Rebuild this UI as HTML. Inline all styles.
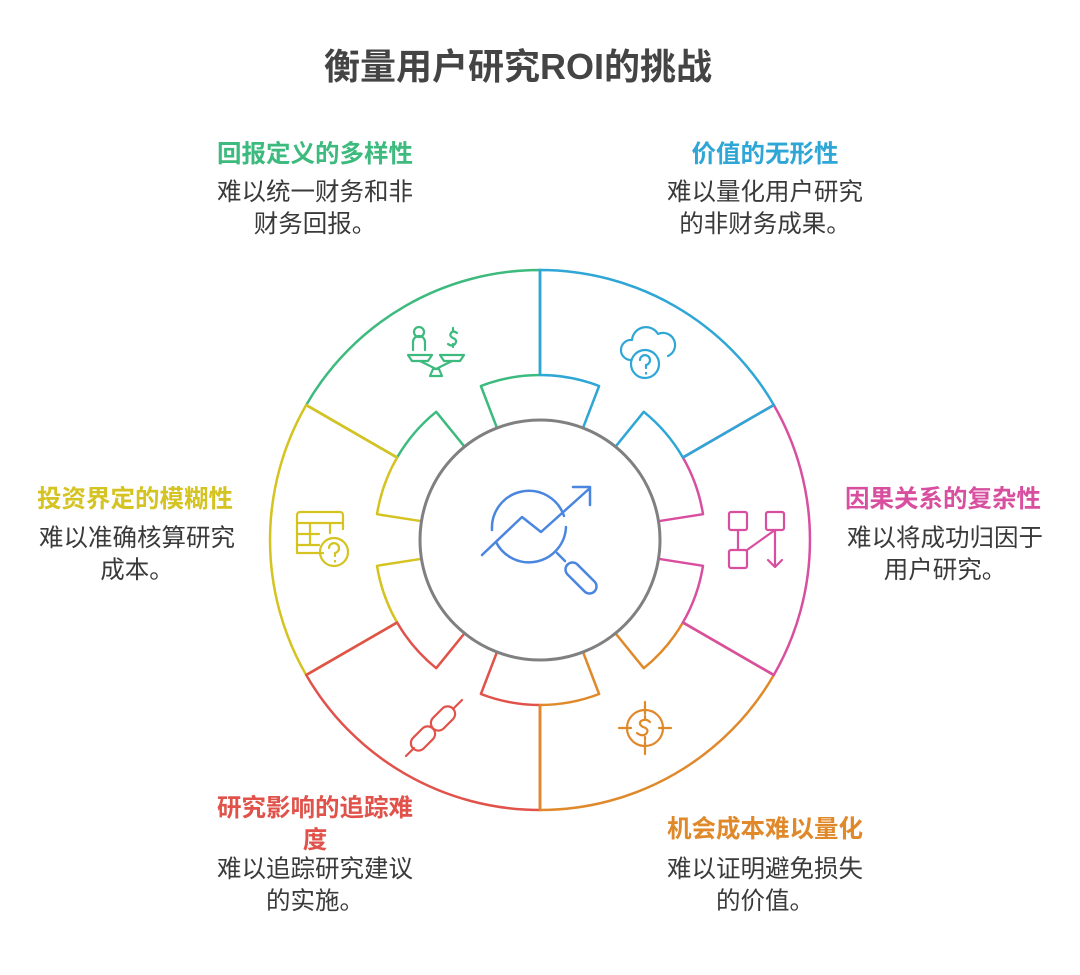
<!DOCTYPE html>
<html><head><meta charset="utf-8"><style>
body{margin:0;width:1080px;height:975px;background:#fff;position:relative;overflow:hidden;font-family:"Liberation Sans","Noto Sans CJK SC",sans-serif}
.t{position:absolute;text-align:center;white-space:nowrap}
.h{font-weight:bold;font-size:24.5px}
.d{font-size:24.5px;color:#3a3a3a;line-height:32px}
</style></head><body>
<div class="t" style="left:-22px;width:1080px;top:38px;font-size:36px;font-weight:bold;color:#444">衡量用户研究ROI的挑战</div>

<div class="t h" style="left:195px;width:240px;top:135px;color:#3dba7e">回报定义的多样性</div>
<div class="t d" style="left:195px;width:240px;top:177px">难以统一财务和非<br>财务回报。</div>

<div class="t h" style="left:645px;width:240px;top:135px;color:#2ea6d6">价值的无形性</div>
<div class="t d" style="left:645px;width:240px;top:177px">难以量化用户研究<br>的非财务成果。</div>

<div class="t h" style="left:37px;width:220px;top:480px;color:#d4c321;text-align:left">投资界定的模糊性</div>
<div class="t d" style="left:17px;width:240px;top:523px">难以准确核算研究<br>成本。</div>

<div class="t h" style="left:845px;width:220px;top:480px;color:#d94fa0;text-align:left">因果关系的复杂性</div>
<div class="t d" style="left:825px;width:240px;top:523px">难以将成功归因于<br>用户研究。</div>

<div class="t h" style="left:195px;width:240px;top:793px;color:#e0524a;line-height:32px">研究影响的追踪难<br>度</div>
<div class="t d" style="left:195px;width:240px;top:854px">难以追踪研究建议<br>的实施。</div>

<div class="t h" style="left:645px;width:240px;top:810px;color:#e0892a">机会成本难以量化</div>
<div class="t d" style="left:645px;width:240px;top:854px">难以证明避免损失<br>的价值。</div>

<svg width="1080" height="975" style="position:absolute;left:0;top:0" fill="none" stroke-width="2.5" stroke-linecap="round" stroke-linejoin="round">
<path stroke="#3dba7e" d="M497,428 L480.9,386 A165,165 0 0 1 540,375 L540,270 A270,270 0 0 0 306.2,405 L397.1,457.5 A165,165 0 0 1 436.2,411.8 L464.5,446.7"/>
<path stroke="#2ea6d6" d="M583,428 L599.1,386 A165,165 0 0 0 540,375 L540,270 A270,270 0 0 1 773.8,405 L682.9,457.5 A165,165 0 0 0 643.8,411.8 L615.5,446.7"/>
<path stroke="#d94fa0" d="M658.5,521.2 L703,514.2 A165,165 0 0 0 682.9,457.5 L773.8,405 A270,270 0 0 1 773.8,675 L682.9,622.5 A165,165 0 0 0 703,565.8 L658.5,558.8"/>
<path stroke="#e0892a" d="M615.5,633.3 L643.8,668.2 A165,165 0 0 0 682.9,622.5 L773.8,675 A270,270 0 0 1 540,810 L540,705 A165,165 0 0 0 599.1,694 L583,652"/>
<path stroke="#e0524a" d="M497,652 L480.9,694 A165,165 0 0 0 540,705 L540,810 A270,270 0 0 1 306.2,675 L397.1,622.5 A165,165 0 0 0 436.2,668.2 L464.5,633.3"/>
<path stroke="#d4c321" d="M421.5,521.2 L377,514.2 A165,165 0 0 1 397.1,457.5 L306.2,405 A270,270 0 0 0 306.2,675 L397.1,622.5 A165,165 0 0 1 377,565.8 L421.5,558.8"/>
<!-- dividers on top -->
<path stroke="#2ea6d6" d="M540,270 L540,375 M773.8,405 L682.9,457.5"/>
<path stroke="#d94fa0" d="M773.8,675 L682.9,622.5"/>
<path stroke="#e0892a" d="M540,810 L540,705"/>
<path stroke="#e0524a" d="M306.2,675 L397.1,622.5"/>
<path stroke="#d4c321" d="M306.2,405 L397.1,457.5"/>
<circle cx="540" cy="540" r="120" stroke="#808080" stroke-width="3"/>

<g stroke="#4a86e0" stroke-width="2.5">
<path d="M492,530 A37,37 0 0 1 564,516"/>
<path d="M566,527 A37,37 0 0 1 496,542"/>
<path d="M482,555 L522,517 L541,532 L590,488 M573,487 L590,487 L590,505"/>
<path d="M557,553 L565,561"/>
<rect x="562" y="571" width="38" height="14" rx="7" transform="rotate(45 581 578)"/>
</g>

<g stroke="#3dba7e" stroke-width="2.2">
<circle cx="419" cy="332" r="5"/>
<path d="M413,350 v-8 a6,6 0 0 1 12,0 v8"/>
<path d="M408,355 h24 l-4,6 h-16 z M440,355 h24 l-4,6 h-16 z"/>
<path d="M420,361 l16,8 l16,-8 M430,376 l3,-7 h6 l3,7 z"/>
<path d="M457,333 q-4,-3 -6,0 q-2,3 2,5 q5,2 2,6 q-3,3 -7,0 M453,328 v3 M453,344 v3"/>
</g>
<g stroke="#2ea6d6" stroke-width="2.2">
<path d="M630,360 a10,10 0 0 1 2,-20 a14,14 0 0 1 26,-6 a11,11 0 0 1 10,22"/>
<circle cx="645" cy="364" r="14"/>
<path d="M640,360 a5,5 0 1 1 6,5 v3 M646,373 v0.5"/>
</g>
<g stroke="#d4c321" stroke-width="2.2">
<path d="M323,553 h-26 v-38 a3,3 0 0 1 3,-3 h40 a3,3 0 0 1 3,3 v14"/>
<path d="M297,523 h46 M297,534 h22 M297,545 h22 M310,523 v22 M330,523 v10"/>
<circle cx="334" cy="552" r="14"/>
<path d="M329,548 a5,5 0 1 1 6,5 v3 M335,561 v0.5"/>
</g>
<g stroke="#d94fa0" stroke-width="2.2">
<rect x="729" y="512" width="18" height="18" rx="2"/>
<rect x="766" y="512" width="18" height="18" rx="2"/>
<rect x="729" y="550" width="18" height="18" rx="2"/>
<path d="M738,530 v20 M747,550 l28,-20 M775,530 v37 M768,560 l7,7 l7,-7"/>
</g>
<g stroke="#e0524a" stroke-width="2.2">
<rect x="409" y="731" width="28" height="15" rx="7.5" transform="rotate(-45 423 738.5)"/>
<rect x="429" y="711" width="28" height="15" rx="7.5" transform="rotate(-45 443 718.5)"/>
<path d="M414,748 l-8,8 M453,709 l9,-9"/>
</g>
<g stroke="#e0892a" stroke-width="2.2">
<circle cx="645" cy="728" r="18"/>
<path d="M645,702 v12 M645,742 v12 M619,728 h12 M659,728 h12"/>
<path d="M650,722 q-4,-4 -9,-1 q-3,3 2,6 q7,2 3,7 q-4,3 -9,-1 M645,716 v3 M645,737 v3"/>
</g>
</svg>
</body></html>
